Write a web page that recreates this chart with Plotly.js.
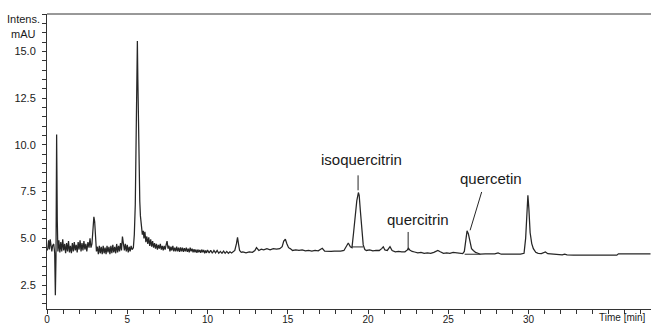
<!DOCTYPE html>
<html>
<head>
<meta charset="utf-8">
<script src="https://cdn.plot.ly/plotly-3.0.1.min.js"></script>
<style>html,body{margin:0;padding:0;background:#fff}#chart{width:651px;height:325px}</style>
</head>
<body>
<div id="chart"></div>
<script>
// Retention time (min)
const timeMin = [
0.00,0.05,0.10,0.15,0.20,0.25,0.30,0.35,0.42,0.48,0.52,0.56,0.60,0.64,0.68,0.74,0.80,0.86,0.92,0.98,
1.04,1.10,1.16,1.22,1.28,1.34,1.40,1.46,1.52,1.58,1.64,1.70,1.76,1.82,1.88,1.94,2.00,2.06,2.12,2.18,
2.24,2.30,2.36,2.42,2.48,2.55,2.62,2.68,2.74,2.80,2.86,2.92,2.97,3.02,3.08,3.14,3.20,3.26,3.32,3.38,
3.44,3.50,3.56,3.62,3.68,3.74,3.80,3.86,3.92,3.98,4.04,4.10,4.16,4.22,4.28,4.34,4.40,4.46,4.52,4.58,
4.64,4.70,4.76,4.82,4.88,4.94,5.00,5.06,5.12,5.18,5.24,5.30,5.38,5.44,5.50,5.55,5.60,5.63,5.66,5.70,
5.74,5.78,5.82,5.88,5.94,6.00,6.04,6.10,6.16,6.22,6.28,6.34,6.40,6.46,6.52,6.58,6.64,6.70,6.76,6.82,
6.88,6.94,7.00,7.06,7.12,7.18,7.24,7.30,7.36,7.42,7.48,7.54,7.60,7.66,7.72,7.78,7.84,7.90,7.96,8.02,
8.08,8.14,8.20,8.26,8.32,8.38,8.44,8.50,8.56,8.62,8.68,8.74,8.80,8.86,8.92,8.98,9.04,9.10,9.16,9.22,
9.28,9.34,9.40,9.46,9.52,9.58,9.64,9.70,9.76,9.82,9.88,9.94,10.0,10.1,10.2,10.3,10.4,10.5,10.6,10.7,
10.8,10.9,11.0,11.1,11.2,11.3,11.4,11.5,11.6,11.7,11.8,11.87,11.93,12.0,12.1,12.2,12.4,12.6,12.8,12.95,
13.05,13.2,13.35,13.5,13.7,13.9,14.1,14.3,14.5,14.65,14.75,14.85,14.95,15.05,15.15,15.3,15.5,15.7,15.9,16.1,
16.3,16.5,16.7,16.9,17.05,17.15,17.3,17.5,17.7,17.9,18.1,18.3,18.5,18.65,18.77,18.9,19.0,19.1,19.2,19.3,
19.4,19.45,19.52,19.6,19.7,19.8,19.9,20.1,20.3,20.5,20.7,20.85,20.95,21.05,21.2,21.37,21.5,21.7,21.9,22.1,
22.3,22.45,22.52,22.6,22.75,22.9,23.1,23.3,23.5,23.7,23.9,24.1,24.35,24.5,24.7,24.9,25.1,25.3,25.5,25.7,
25.9,26.0,26.08,26.17,26.25,26.35,26.45,26.56,26.7,26.85,27.0,27.3,27.6,27.9,28.1,28.3,28.6,28.9,29.2,29.5,
29.72,29.82,29.9,29.96,30.02,30.1,30.2,30.3,30.45,30.6,30.8,31.05,31.2,31.5,31.8,32.1,32.25,32.4,32.8,33.2,
33.4,33.6,34.0,34.5,35.0,35.5,35.6,36.0,36.5,37.0,37.6
];
// Intensity (mAU)
const intensity = [
4.35,4.45,4.9,4.4,4.95,4.5,4.3,4.6,4.7,4.2,1.95,4.0,10.55,6.0,4.3,4.9,4.25,4.8,4.3,4.95,
4.35,4.7,4.2,4.75,4.3,4.85,4.25,4.6,4.2,4.75,4.3,4.8,4.35,4.65,4.25,4.8,4.4,4.9,4.3,4.75,
4.35,4.85,4.4,4.7,4.3,4.8,4.5,5.0,4.5,4.7,5.6,6.15,5.9,4.8,4.3,4.55,4.15,4.6,4.2,4.55,
4.15,4.6,4.2,4.5,4.15,4.6,4.25,4.55,4.15,4.6,4.2,4.65,4.25,4.55,4.2,4.7,4.25,4.6,4.3,4.75,
4.35,5.1,4.6,4.35,4.7,4.3,4.65,4.25,4.55,4.3,4.6,4.4,4.5,5.2,6.8,9.5,14.0,15.55,13.5,10.5,
8.6,7.0,6.2,5.6,5.2,5.4,5.0,5.35,4.8,5.1,4.7,5.05,4.6,4.95,4.55,4.85,4.5,4.75,4.45,4.7,
4.4,4.65,4.45,4.7,4.4,4.6,4.35,4.6,4.4,4.65,4.85,4.45,4.6,4.3,4.55,4.35,4.6,4.3,4.5,4.3,
4.55,4.3,4.5,4.28,4.52,4.3,4.5,4.28,4.48,4.3,4.5,4.28,4.45,4.25,4.5,4.3,4.45,4.25,4.42,4.25,
4.4,4.22,4.4,4.25,4.38,4.22,4.4,4.25,4.38,4.2,4.35,4.22,4.38,4.22,4.36,4.2,4.35,4.22,4.35,4.2,
4.3,4.2,4.32,4.2,4.3,4.2,4.28,4.22,4.3,4.35,4.7,5.05,4.7,4.35,4.25,4.28,4.22,4.27,4.25,4.35,
4.5,4.35,4.42,4.38,4.45,4.38,4.45,4.42,4.45,4.55,4.85,4.95,4.7,4.5,4.45,4.35,4.38,4.35,4.38,4.33,
4.35,4.32,4.35,4.33,4.42,4.47,4.32,4.3,4.3,4.32,4.3,4.32,4.35,4.55,4.75,4.55,4.5,5.3,6.4,7.0,
7.45,7.3,6.5,5.6,4.65,4.4,4.35,4.38,4.33,4.36,4.35,4.45,4.55,4.38,4.35,4.55,4.35,4.28,4.3,4.27,
4.28,4.38,4.47,4.38,4.3,4.27,4.22,4.25,4.2,4.22,4.2,4.25,4.35,4.28,4.2,4.22,4.2,4.25,4.22,4.2,
4.18,4.3,4.9,5.4,5.25,4.8,4.45,4.35,4.25,4.2,4.15,4.17,4.15,4.17,4.22,4.15,4.16,4.14,4.16,4.15,
4.2,5.0,6.6,7.3,6.6,5.3,4.72,4.45,4.25,4.2,4.18,4.27,4.18,4.16,4.15,4.12,4.16,4.12,4.1,4.1,
4.13,4.1,4.1,4.1,4.1,4.1,4.17,4.17,4.17,4.17,4.17
];
// Integration baselines under labelled peaks
const isoBaseT = [19.0, 19.7];
const isoBaseV = [4.54, 4.54];
const quercetinBaseT = [26.02, 27.0];
const quercetinBaseV = [4.15, 4.15];
// Peak labels: text, label position, pointer line (from, to)
const labelText = ['isoquercitrin', 'quercitrin', 'quercetin'];
const labelT = [19.6, 23.1, 27.66];
const labelV = [9.22, 6.02, 8.2];
const pointerT0 = [19.38, 22.5, 27.08];
const pointerV0 = [8.37, 5.34, 7.48];
const pointerT1 = [19.38, 22.5, 26.36];
const pointerV1 = [7.57, 4.36, 5.43];
// Axis ticks
const xTickVals = [0, 5, 10, 15, 20, 25, 30];
const xTickText = ['0', '5', '10', '15', '20', '25', '30'];
const yTickVals = [2.5, 5, 7.5, 10, 12.5, 15];
const yTickText = ['2.5', '5.0', '7.5', '10.0', '12.5', '15.0'];
// Y axis unit labels: text, value position, right edge offset (px from axis)
const yUnitText = ['Intens.', 'mAU'];
const yUnitV = [16.71, 15.95];
const yUnitShift = [-5, -9];

const lineCol = '#262626';
const fontFam = 'Liberation Sans, Arial, sans-serif';
const traces = [
  {x: timeMin, y: intensity, type: 'scatter', mode: 'lines',
   line: {color: lineCol, width: 1.25}, hoverinfo: 'none'},
  {x: isoBaseT, y: isoBaseV, type: 'scatter', mode: 'lines',
   line: {color: lineCol, width: 1}, hoverinfo: 'none'},
  {x: quercetinBaseT, y: quercetinBaseV, type: 'scatter', mode: 'lines',
   line: {color: lineCol, width: 1}, hoverinfo: 'none'}
];
for (let i = 0; i < labelText.length; i++) {
  traces.push({x: [pointerT0[i], pointerT1[i]], y: [pointerV0[i], pointerV1[i]],
    type: 'scatter', mode: 'lines', line: {color: lineCol, width: 1}, hoverinfo: 'none'});
}
const annotations = labelText.map((t, i) => ({
  x: labelT[i], y: labelV[i], xref: 'x', yref: 'y', text: t, showarrow: false,
  font: {family: fontFam, size: 15, color: '#1a1a1a'},
  xanchor: 'center', yanchor: 'middle'
}));
yUnitText.forEach((t, i) => annotations.push({
  x: 0, y: yUnitV[i], xref: 'paper', yref: 'y', xanchor: 'right', yanchor: 'middle',
  xshift: yUnitShift[i], text: t, showarrow: false,
  font: {family: fontFam, size: 11, color: '#1a1a1a'}
}));
annotations.push({x: 1, y: 0, xref: 'paper', yref: 'paper', xanchor: 'right', yanchor: 'top',
  yshift: -1, xshift: -3, text: 'Time [min]', showarrow: false,
  font: {family: fontFam, size: 10, color: '#1a1a1a'}});

const axisFont = {family: fontFam, size: 11, color: '#1a1a1a'};
const layout = {
  width: 651, height: 325,
  margin: {l: 47, r: 0, t: 14, b: 16, pad: 0},
  paper_bgcolor: '#fff', plot_bgcolor: '#fff',
  showlegend: false,
  xaxis: {range: [0, 37.63], tickmode: 'array', tickvals: xTickVals, ticktext: xTickText,
    ticks: 'outside', ticklen: 4, tickwidth: 1, tickcolor: '#333', ticklabelstandoff: -3,
    showline: true, linecolor: '#333', linewidth: 1, showgrid: false, zeroline: false,
    tickfont: {family: fontFam, size: 10, color: '#1a1a1a'}, automargin: false,
    minor: {tickmode: 'linear', tick0: 0, dtick: 1, ticks: 'outside', ticklen: 4, tickcolor: '#333', showgrid: false}},
  yaxis: {range: [1.22, 17.0], tickmode: 'array', tickvals: yTickVals, ticktext: yTickText,
    ticks: 'outside', ticklen: 4, tickwidth: 1, tickcolor: '#333', ticklabelstandoff: 4,
    showline: true, linecolor: '#333', linewidth: 1, showgrid: false, zeroline: false,
    tickfont: axisFont, automargin: false,
    minor: {tickmode: 'linear', tick0: 0, dtick: 0.5, ticks: 'outside', ticklen: 4, tickcolor: '#333', showgrid: false}},
  shapes: [{type: 'line', xref: 'paper', yref: 'paper', x0: 0, x1: 1, y0: 1, y1: 1,
    line: {color: '#333', width: 1}}],
  annotations: annotations
};
Plotly.newPlot('chart', traces, layout, {staticPlot: true, displayModeBar: false});
</script>
</body>
</html>
